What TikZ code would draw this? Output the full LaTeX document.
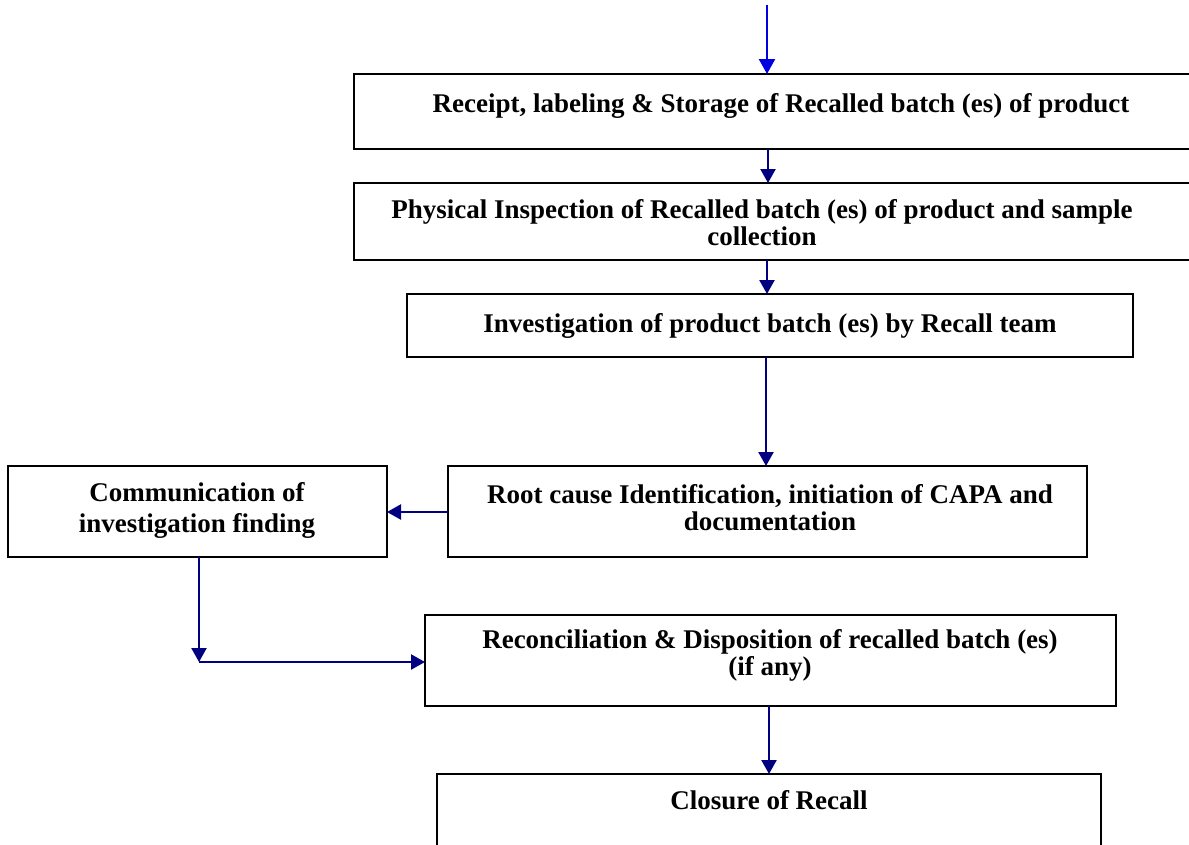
\documentclass[tikz,border=0pt]{standalone}
\usepackage{fontspec}
\setmainfont{Liberation Serif}
\usetikzlibrary{arrows.meta}
\definecolor{navyline}{RGB}{0,0,128}
\definecolor{topblue}{RGB}{0,0,225}
\begin{document}
\begin{tikzpicture}[x=1pt,y=1pt,
  box/.style={draw=black,line width=2pt,inner sep=0pt,outer sep=0pt,anchor=north west,fill=none},
  lbl/.style={font=\fontsize{27}{27}\selectfont\bfseries,align=center,inner sep=0pt,anchor=base},
  arr/.style={draw=navyline,fill=navyline,line width=2.3pt,-{Triangle[length=14pt,width=15pt]}},
  ln/.style={draw=navyline,line width=2.3pt}]
\useasboundingbox (0,0) rectangle (1189,-844);
\clip (0,0) rectangle (1189,-844);
% boxes
\node[box,minimum width=850pt,minimum height=75pt] (b1) at (354,-74) {};
\node[box,minimum width=850pt,minimum height=77pt] (b2) at (354,-183) {};
\node[box,minimum width=726pt,minimum height=63pt] (b3) at (407,-294) {};
\node[box,minimum width=639pt,minimum height=91pt] (b4) at (448,-466) {};
\node[box,minimum width=379pt,minimum height=91pt] (b5) at (8,-466) {};
\node[box,minimum width=691pt,minimum height=91pt] (b6) at (425,-615) {};
\node[box,minimum width=664pt,minimum height=100pt] (b7) at (437,-774) {};
% texts (anchor base = baseline of last line)
\node[lbl] (t1) at (781,-112) {Receipt, labeling \& Storage of Recalled batch (es) of product};
\node[lbl] (t2) at (762,-245) {Physical Inspection of Recalled batch (es) of product and sample\\collection};
\node[lbl] (t3) at (770,-332) {Investigation of product batch (es) by Recall team};
\node[lbl] (t4) at (770,-530) {Root cause Identification, initiation of CAPA and\\documentation};
\node[lbl,font=\fontsize{27}{31}\selectfont\bfseries] (t5) at (197,-532) {Communication of\\investigation finding};
\node[lbl] (t6) at (770,-675) {Reconciliation \& Disposition of recalled batch (es)\\(if any)};
\node[lbl] (t7) at (769,-809) {Closure of Recall};
% connectors
\coordinate (start) at (767,-5);
\coordinate (cA) at (768,0);
\coordinate (cB) at (767,0);
\coordinate (cC) at (766,0);
\coordinate (cD) at (769,0);
\coordinate (bend) at (199,-662);
\draw[arr,draw=topblue,fill=topblue,-{Triangle[length=15pt,width=16pt]}] (start) -- (b1.north -| start);
\draw[arr] (b1.south -| cA) -- (b2.north -| cA);
\draw[arr] (b2.south -| cB) -- (b3.north -| cB);
\draw[arr] (b3.south -| cC) -- (b4.north -| cC);
\draw[arr] (b4.west |- 0,-512) -- (b5.east |- 0,-512);
\draw[arr] (b5.south -| bend) -- (bend);
\draw[arr] (bend) -- (b6.west |- bend);
\draw[arr] (b6.south -| cD) -- (b7.north -| cD);
\end{tikzpicture}
\end{document}
